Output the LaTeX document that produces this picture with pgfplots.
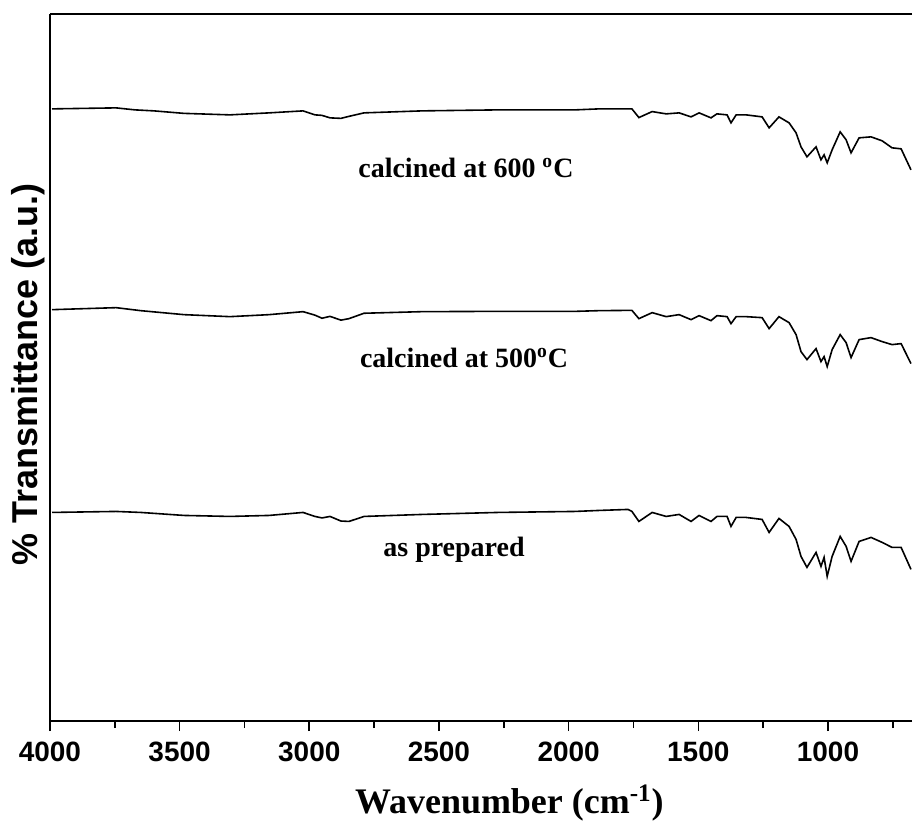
\documentclass[border=0pt]{standalone}
\usepackage{fontspec}
\usepackage{pgfplots}
\usepackage{pgfplotstable}
\pgfplotsset{compat=1.18}
\setmainfont{Liberation Serif}
\newfontfamily\sansf{Liberation Sans}

% calcined at 600 C
\pgfplotstableread{
wn v
3992 613
3745 614
3672 612
3599 611
3483 608.5
3306 607
3155 609
3024 611
2978 607
2951 606.5
2920 604
2878 603.5
2847 605.5
2789 609
2565 611
2272 612
1975 612
1883 613
1756 613
1729 604.3
1678 610.3
1624 608
1574 609
1528 605
1497 609
1451 604
1428 608
1389 607
1374 599
1354 607
1316 607
1254 605
1227 594
1189 605
1150 599
1123 589
1104 575
1081 565
1046 575
1027 562
1015 567
1003 559
984 572
953 590
930 582
911 569
880 584
834 585
791 581
753 574
718 573
680 552
}\calsix

% calcined at 500 C
\pgfplotstableread{
wn v
3992 412
3745 414
3650 411
3483 407
3306 405
3155 407
3024 410
2978 406.5
2951 403.4
2920 405.3
2878 401.5
2847 403
2789 408.4
2565 410
2272 410.3
1975 410.3
1883 411
1756 411.3
1729 403
1678 409
1624 405
1574 407
1528 402
1497 406
1451 401
1428 406
1389 405
1374 398
1354 405
1316 405
1254 404
1227 393
1189 405
1150 399
1123 387
1104 370
1081 362
1046 373
1027 360
1015 365
1003 355
984 372
953 387
930 379
911 364
880 382
834 384
791 380
753 377
718 378
680 358
}\calfive

% as prepared
\pgfplotstableread{
wn v
3992 209
3745 210
3650 209
3483 206
3306 205
3155 206
3024 209
2978 205
2951 203.5
2920 205
2878 200.4
2847 200
2789 205
2565 207
2272 209
1975 210
1883 211
1771 212
1756 210
1729 200
1678 209
1624 205
1574 207
1528 200
1497 206
1451 200
1428 205
1389 205
1374 195
1354 204
1316 204
1254 202
1227 189
1189 203
1150 195
1123 182
1104 165
1081 154
1046 169
1027 155
1015 164
1003 145
984 165
953 185
930 175
911 160
880 180
834 184
791 179
753 174
718 174
680 152
}\asprep

\begin{document}
\begin{tikzpicture}
\begin{axis}[
    at={(0,0)}, anchor=south west,
    scale only axis,
    width=431.5pt, height=354pt,
    x dir=reverse,
    xmin=676, xmax=4000,
    ymin=0, ymax=708,
    axis x line*=box,
    axis y line*=left,
    axis line style={line width=1pt},
    xtick={1000,1500,...,4000},
    minor xtick={750,1250,...,3750},
    xtick pos=bottom,
    tick align=outside,
    major tick length=5pt,
    minor tick length=3.5pt,
    every tick/.style={black, line width=0.8pt},
    ytick=\empty,
    /pgf/number format/1000 sep={},
    /pgf/number format/assume math mode=true,
    tick label style={font=\sansf\bfseries\fontsize{14}{16}\selectfont, yshift=-2pt},
    xlabel={Wavenumber (cm\textsuperscript{-1})},
    ylabel={\% Transmittance (a.u.)},
    xlabel style={font=\bfseries\fontsize{18}{20}\selectfont,
        at={(axis description cs:0.533,-0.131)}, anchor=base},
    ylabel style={font=\sansf\bfseries\fontsize{18}{20}\selectfont,
        at={(axis description cs:-0.0255,0.49)}, anchor=center},
    clip=true,
]
\addplot[black, line width=0.8pt] table[x=wn, y=v] {\calsix};
\addplot[black, line width=0.8pt] table[x=wn, y=v] {\calfive};
\addplot[black, line width=0.8pt] table[x=wn, y=v] {\asprep};

\node[anchor=base, font=\bfseries\fontsize{14}{16}\selectfont]
    at (axis cs:2396,544) {calcined at 600 \textsuperscript{o}C};
\node[anchor=base, font=\bfseries\fontsize{14}{16}\selectfont]
    at (axis cs:2403,354) {calcined at 500\textsuperscript{o}C};
\node[anchor=base, font=\bfseries\fontsize{14}{16}\selectfont]
    at (axis cs:2442,165) {as prepared};
\end{axis}
\path[use as bounding box] (-25pt,-51.5pt) rectangle (431.5pt,361pt);
\end{tikzpicture}
\end{document}
